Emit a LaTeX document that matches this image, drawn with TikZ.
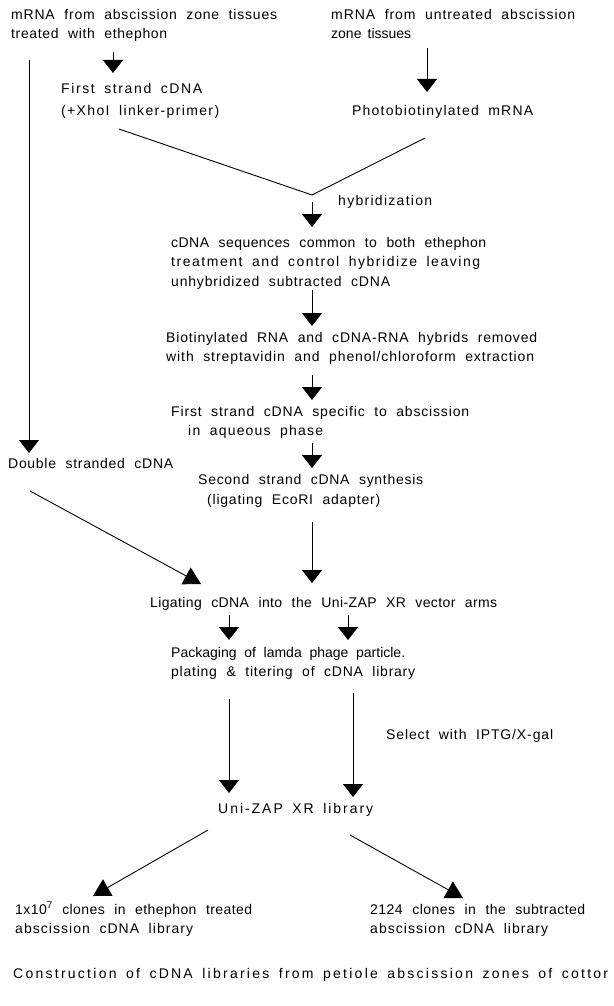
\documentclass[tikz,border=0pt]{standalone}
\usepackage{fontspec}
\setmainfont{Liberation Sans}
\usetikzlibrary{arrows.meta}
\newlength\natA
\newlength\natB
\newlength\natC
\newcommand{\spl}[2]{%
  \begingroup
  \settowidth\natA{\addfontfeature{LetterSpace=0}\spaceskip=0.001pt\relax #2}%
  \settowidth\natB{\addfontfeature{LetterSpace=10}\spaceskip=0.001pt\relax #2}%
  \settowidth\natC{\addfontfeature{LetterSpace=0}\spaceskip=10.001pt\relax #2}%
  \pgfmathsetmacro\nsp{(\natC-\natA)/10}%
  \pgfmathsetmacro\lsp{max(0,10*(#1pt-\nsp*9.5pt-\natA)/(\natB-\natA))}%
  \addfontfeature{LetterSpace=\lsp}%
  \makebox[#1pt][s]{#2}%
  \endgroup}
\begin{document}
\begin{tikzpicture}[x=1pt,y=-1pt,
  txt/.style={anchor=north west,inner sep=0pt,align=left,font=\fontsize{14}{19.5}\selectfont},
  ln/.style={line width=0.9pt},
  arr/.style={ln,-{Triangle[width=20pt,length=13pt]}},
  darr/.style={ln,-{Triangle[width=19pt,length=17pt]}}]
\fill[white] (0,0) rectangle (613,1006);
\useasboundingbox (0,0) rectangle (613,1006);

% text blocks
\node[txt] (A) at (11,9) {\spl{266}{mRNA from abscission zone tissues}\\\spl{156}{treated with ethephon}};
\node[txt] (B) at (331,9) {\spl{244}{mRNA from untreated abscission}\\\spl{80}{zone tissues}};
\node[txt] (C) at (61,83) {\spl{141}{First strand cDNA}\\[2.5pt]\spl{158}{(+XhoI linker-primer)}};
\node[txt] (D) at (352,105) {\spl{181}{Photobiotinylated mRNA}};
\node[txt] (E) at (338,195) {\spl{94}{hybridization}};
\node[txt] (F) at (171,237) {\spl{315}{cDNA sequences common to both ethephon}\\\spl{309}{treatment and control hybridize leaving}\\\spl{219}{unhybridized subtracted cDNA}};
\node[txt] (G) at (166,332) {\spl{371}{Biotinylated RNA and cDNA-RNA hybrids removed}\\\spl{368}{with streptavidin and phenol/chloroform extraction}};
\node[txt] (H) at (171,406) {\spl{298}{First strand cDNA specific to abscission}\\\hspace*{17pt}\spl{135}{in aqueous phase}};
\node[txt] (I) at (8,458) {\spl{165}{Double stranded cDNA}};
\node[txt] (J) at (198,474) {\spl{225}{Second strand cDNA synthesis}\\[1pt]\hspace*{9pt}\spl{173}{(ligating EcoRI adapter)}};
\node[txt] (K) at (150,597) {\spl{347}{Ligating cDNA into the Uni-ZAP XR vector arms}};
\node[txt] (L) at (171,647) {\spl{234}{Packaging of lamda phage particle.}\\\spl{244}{plating \& titering of cDNA library}};
\node[txt] (M) at (386,729) {\spl{167}{Select with IPTG/X-gal}};
\node[txt] (N) at (218,803) {\spl{155}{Uni-ZAP XR library}};
\node[txt] (O) at (15,902) {\spl{237}{1x10\textsuperscript{7} clones in ethephon treated}\\\spl{178}{abscission cDNA library}};
\node[txt] (P) at (370,904) {\spl{215}{2124 clones in the subtracted}\\\spl{178}{abscission cDNA library}};
\node[txt] (Q) at (13,968) {\spl{595}{Construction of cDNA libraries from petiole abscission zones of cottor}};

% free ends
\coordinate (s1) at (113,52);
\coordinate (s2) at (427,48);
\coordinate (sL) at (29,60);
\coordinate (v1) at (119,129);
\coordinate (v2) at (312,195);
\coordinate (v3) at (425,138);
\coordinate (s3) at (312,202);
\coordinate (s4) at (312,290);
\coordinate (s5) at (312,375);
\coordinate (s6) at (312,443);
\coordinate (s7) at (312,522);
\coordinate (s8) at (30,491);
\coordinate (s9) at (229,615);
\coordinate (s10) at (348,615);
\coordinate (s11) at (229,699);
\coordinate (s12) at (353,693);
\coordinate (s13) at (208,830);
\coordinate (s14) at (350,835);

% connectors
\draw[arr,shorten >=10pt] (s1) -- (s1 |- C.north);
\draw[arr,shorten >=13pt] (s2) -- (s2 |- D.north);
\draw[arr,shorten >=5pt] (sL) -- (sL |- I.north);
\draw[ln] (v1) -- (v2) -- (v3);
\draw[arr,shorten >=10pt] (s3) -- (s3 |- F.north);
\draw[arr,shorten >=6pt] (s4) -- (s4 |- G.north);
\draw[arr,shorten >=6pt] (s5) -- (s5 |- H.north);
\draw[arr,shorten >=6pt] (s6) -- (s6 |- J.north);
\draw[arr,shorten >=14pt] (s7) -- (s7 |- K.north);
\draw[darr] (s8) -- ([xshift=51pt,yshift=13pt]K.north west);
\draw[arr,shorten >=7pt] (s9) -- (s9 |- L.north);
\draw[arr,shorten >=7pt] (s10) -- (s10 |- L.north);
\draw[arr,shorten >=10pt] (s11) -- (s11 |- N.north);
\draw[arr,shorten >=6pt] (s12) -- (s12 |- N.north);
\draw[darr] (s13) -- ([xshift=78pt,yshift=6pt]O.north west);
\draw[darr] (s14) -- ([xshift=93pt,yshift=6pt]P.north west);
\end{tikzpicture}
\end{document}
